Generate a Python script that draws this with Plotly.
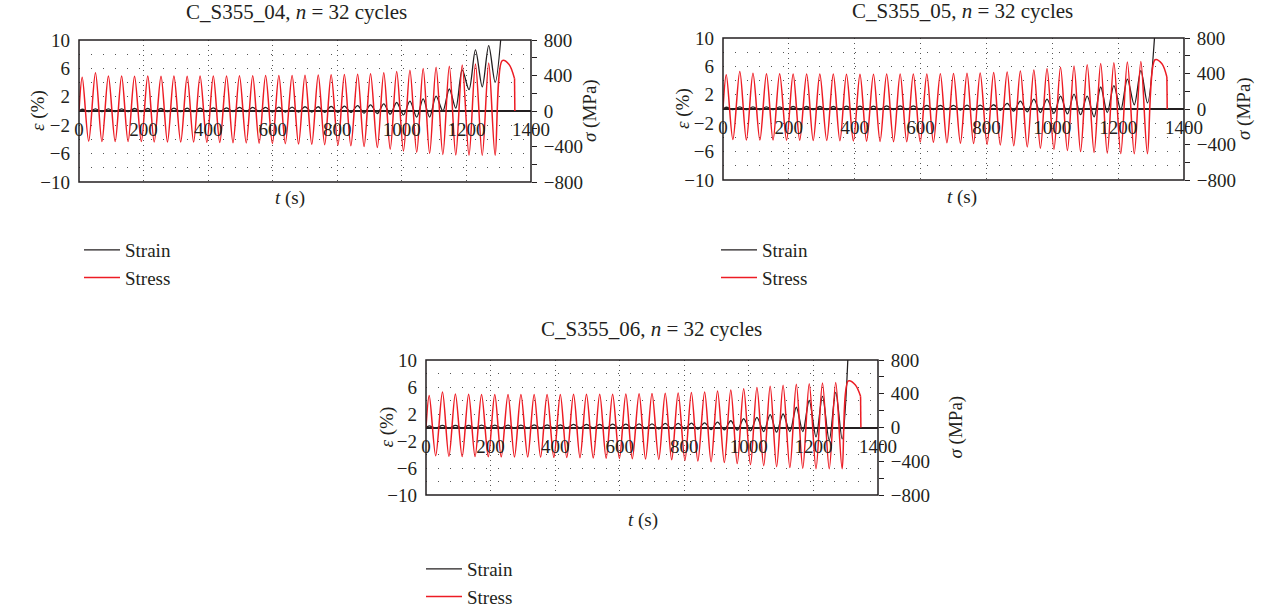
import plotly.graph_objects as go

# ---------------- data ----------------
# times of the stress/strain extrema within each of the 32 cycles (s)
T_PEAK = [10, 51, 91, 132, 172, 213, 254, 294, 335, 375, 416, 457, 497, 538, 578, 619,
          660, 700, 741, 781, 822, 863, 903, 944, 984, 1025, 1066, 1106, 1147, 1187, 1228, 1269]
T_TROUGH = [30, 71, 112, 152, 193, 233, 274, 315, 355, 396, 436, 477, 518, 558, 599, 639,
            680, 721, 761, 802, 842, 883, 924, 964, 1005, 1046, 1086, 1127, 1167, 1208, 1249, 1289]

# ---- C_S355_04 ----
P1_STRESS_PEAK = [380, 430, 395, 395, 392, 395, 392, 395, 392, 395, 395, 395, 398, 398, 400, 400,
                  400, 402, 405, 408, 410, 415, 420, 430, 445, 460, 478, 492, 505, 518, 530, 540]
P1_STRESS_TROUGH = [-340, -345, -345, -345, -345, -348, -348, -350, -350, -352, -355, -358, -360, -362, -365, -368,
                    -372, -376, -380, -386, -392, -400, -412, -430, -450, -465, -478, -490, -496, -498, -500, -498]
P1_STRAIN_PEAK = [0.25, 0.3, 0.3, 0.3, 0.35, 0.35, 0.35, 0.4, 0.4, 0.4, 0.45, 0.45, 0.5, 0.5, 0.5, 0.55,
                  0.55, 0.6, 0.6, 0.65, 0.7, 0.75, 0.85, 1.0, 1.2, 1.4, 1.7, 2.1, 3.1, 5.8, 8.6, 9.2]
P1_STRAIN_TROUGH = [-0.1, -0.1, -0.1, -0.1, -0.1, -0.1, -0.1, -0.1, -0.1, -0.1, -0.1, -0.1, -0.1, -0.1, -0.15, -0.15,
                    -0.15, -0.15, -0.2, -0.2, -0.2, -0.3, -0.35, -0.45, -0.55, -0.85, -0.85, 0.0, 0.4, 3.0, 3.4, 4.05]
P1_STRESS_TAIL_T = [1311, 1332, 1349]
P1_STRESS_TAIL_V = [568, 525, 365]
P1_END_T = 1350
P1_STRAIN_TAIL_T = [1313]
P1_STRAIN_TAIL_V = [14]

# ---- C_S355_05 ----
P2_STRESS_PEAK = [385, 422, 402, 398, 396, 395, 395, 393, 393, 392, 392, 392, 393, 393, 395, 395,
                  397, 400, 402, 406, 410, 418, 428, 440, 455, 470, 485, 500, 512, 522, 530, 535]
P2_STRESS_TROUGH = [-345, -350, -350, -350, -352, -352, -355, -355, -358, -360, -362, -365, -368, -370, -372, -375,
                    -380, -385, -390, -398, -405, -415, -428, -442, -455, -468, -480, -490, -498, -502, -505, -503]
P2_STRAIN_PEAK = [0.25, 0.3, 0.3, 0.3, 0.3, 0.35, 0.35, 0.35, 0.35, 0.4, 0.4, 0.4, 0.45, 0.45, 0.45, 0.5,
                  0.5, 0.5, 0.55, 0.55, 0.6, 0.8, 1.1, 1.4, 1.4, 1.8, 2.1, 1.8, 3.1, 3.3, 4.2, 5.4]
P2_STRAIN_TROUGH = [-0.1, -0.1, -0.1, -0.1, -0.1, -0.1, -0.1, -0.1, -0.1, -0.1, -0.1, -0.1, -0.1, -0.1, -0.1, -0.1,
                    -0.1, -0.15, -0.15, -0.15, -0.2, -0.3, -0.4, -0.5, -0.6, -0.7, -0.8, -1.1, -0.5, -0.1, 0.6, 0.86]
P2_STRESS_TAIL_T = [1312, 1333, 1348]
P2_STRESS_TAIL_V = [555, 510, 360]
P2_END_T = 1349
P2_STRAIN_TAIL_T = [1316]
P2_STRAIN_TAIL_V = [14]

# ---- C_S355_06 ----
P3_STRESS_PEAK = [380, 420, 398, 395, 392, 392, 392, 390, 392, 392, 392, 393, 393, 395, 395, 397,
                  400, 402, 405, 410, 415, 422, 432, 445, 460, 475, 490, 502, 512, 520, 528, 532]
P3_STRESS_TROUGH = [-335, -342, -345, -345, -347, -348, -350, -350, -352, -354, -356, -358, -360, -363, -366, -370,
                    -374, -378, -383, -390, -398, -406, -416, -428, -440, -452, -465, -475, -483, -488, -490, -488]
P3_STRAIN_PEAK = [0.25, 0.3, 0.3, 0.3, 0.35, 0.35, 0.35, 0.35, 0.4, 0.4, 0.4, 0.45, 0.45, 0.45, 0.5, 0.5,
                  0.55, 0.55, 0.6, 0.6, 0.65, 0.7, 0.8, 1.0, 1.3, 1.5, 1.9, 2.0, 3.0, 4.0, 4.6, 5.2]
P3_STRAIN_TROUGH = [-0.1, -0.1, -0.1, -0.1, -0.1, -0.1, -0.1, -0.1, -0.1, -0.1, -0.1, -0.1, -0.1, -0.15, -0.15, -0.15,
                    -0.15, -0.2, -0.2, -0.2, -0.25, -0.3, -0.35, -0.4, -0.5, -0.6, -0.7, -0.6, -0.6, -1.4, -1.9, -1.7]
P3_STRESS_TAIL_T = [1308, 1330, 1346]
P3_STRESS_TAIL_V = [552, 505, 370]
P3_END_T = 1347
P3_STRAIN_TAIL_T = [1310]
P3_STRAIN_TAIL_V = [14]

TITLES = ["C_S355_04, <i>n</i> = 32 cycles", "C_S355_05, <i>n</i> = 32 cycles", "C_S355_06, <i>n</i> = 32 cycles"]
X_TICKS = [0, 200, 400, 600, 800, 1000, 1200, 1400]
EPS_TICKS = [-10, -6, -2, 2, 6, 10]
EPS_GRID = [-8, -4, 4, 8]
SIG_TICKS = [-800, -400, 0, 400, 800]
SIG_MINOR = [-600, -200, 200, 600]

# ---------------- helpers ----------------
def wave(peaks, troughs, tail_t, tail_v):
    t, v = [0], [0]
    for tp, p, tt, q in zip(T_PEAK, peaks, T_TROUGH, troughs):
        t += [tp, tt]
        v += [p, q]
    return t + list(tail_t), v + list(tail_v)

W, H = 1281, 612
def px(x):
    return x / W
def py(y):
    return 1 - y / H

FONT = "Liberation Serif"
INK = "#231f20"
RED = "#ed1c24"
TICK = 19

panels = [
    dict(x0=79, x1=531, y0=40, y1=182, title=TITLES[0], tx=296, ty=12, ax=290, ay=198,
         lx=38, rx=590, leg_x=79, leg_y=231,
         sp=P1_STRESS_PEAK, st=P1_STRESS_TROUGH, ep=P1_STRAIN_PEAK, et=P1_STRAIN_TROUGH,
         stt=P1_STRESS_TAIL_T, stv=P1_STRESS_TAIL_V, end=P1_END_T, ett=P1_STRAIN_TAIL_T, etv=P1_STRAIN_TAIL_V),
    dict(x0=723, x1=1184, y0=38, y1=180, title=TITLES[1], tx=963, ty=11, ax=962, ay=197,
         lx=683, rx=1244, leg_x=716, leg_y=231,
         sp=P2_STRESS_PEAK, st=P2_STRESS_TROUGH, ep=P2_STRAIN_PEAK, et=P2_STRAIN_TROUGH,
         stt=P2_STRESS_TAIL_T, stv=P2_STRESS_TAIL_V, end=P2_END_T, ett=P2_STRAIN_TAIL_T, etv=P2_STRAIN_TAIL_V),
    dict(x0=426, x1=878, y0=360, y1=495, title=TITLES[2], tx=651, ty=329, ax=643, ay=520,
         lx=386, rx=955, leg_x=421, leg_y=550,
         sp=P3_STRESS_PEAK, st=P3_STRESS_TROUGH, ep=P3_STRAIN_PEAK, et=P3_STRAIN_TROUGH,
         stt=P3_STRESS_TAIL_T, stv=P3_STRESS_TAIL_V, end=P3_END_T, ett=P3_STRAIN_TAIL_T, etv=P3_STRAIN_TAIL_V),
]

fig = go.Figure()
annotations = []
shapes = []
layout = {}

for i, p in enumerate(panels):
    xn = "x" if i == 0 else f"x{i+1}"
    yl = f"y{2*i+1}" if i > 0 else "y"
    yr = f"y{2*i+2}"
    xkey = "xaxis" if i == 0 else f"xaxis{i+1}"
    ylkey = "yaxis" if i == 0 else f"yaxis{2*i+1}"
    yrkey = f"yaxis{2*i+2}"
    leg = "legend" if i == 0 else f"legend{i+1}"

    ydom = [py(p["y1"]), py(p["y0"])]
    xdom = [px(p["x0"]), px(p["x1"])]

    et_, ev_ = wave(p["ep"], p["et"], p["ett"], p["etv"])
    st_, sv_ = wave(p["sp"], p["st"], p["stt"], p["stv"])

    fig.add_trace(go.Scatter(x=et_, y=ev_, xaxis=xn, yaxis=yl, mode="lines", name="Strain",
                             line=dict(color=INK, width=1.3, shape="spline", smoothing=0.9),
                             legend=leg, legendgroup=f"strain{i}"))
    fig.add_trace(go.Scatter(x=st_, y=sv_, xaxis=xn, yaxis=yr, mode="lines", name="Stress",
                             line=dict(color=RED, width=1.5, shape="spline", smoothing=0.9),
                             legend=leg, legendgroup=f"stress{i}"))
    fig.add_trace(go.Scatter(x=[p["stt"][-1], p["end"]], y=[p["stv"][-1], 0], xaxis=xn, yaxis=yr,
                             mode="lines", line=dict(color=RED, width=1.5), showlegend=False,
                             legend=leg, legendgroup=f"stress{i}", hoverinfo="skip"))

    layout[xkey] = dict(domain=xdom, range=[0, 1400], anchor="free", position=(ydom[0] + ydom[1]) / 2,
                        tickmode="array", tickvals=X_TICKS, showline=False, ticks="", zeroline=False,
                        showgrid=True, gridcolor="#555555", gridwidth=1, griddash="1px,4px",
                        tickfont=dict(family=FONT, size=TICK, color=INK), ticklabelstandoff=5,
                        automargin=False)
    layout[ylkey] = dict(domain=ydom, range=[-10, 10], anchor=xn, tickmode="array", tickvals=EPS_TICKS,
                         showline=False, ticks="", showgrid=True, gridcolor="#555555", gridwidth=1,
                         griddash="1px,11px", zeroline=True, zerolinecolor=INK, zerolinewidth=1.5,
                         minor=dict(tickmode="array", tickvals=EPS_GRID, showgrid=True, gridcolor="#555555",
                                    gridwidth=1, griddash="1px,11px", ticks=""),
                         tickfont=dict(family=FONT, size=TICK, color=INK), ticklabelstandoff=8,
                         automargin=False)
    layout[yrkey] = dict(range=[-800, 800], anchor=xn, overlaying=yl, side="right", tickmode="array",
                         tickvals=SIG_TICKS, showgrid=False, zeroline=False, showline=False,
                         ticks="outside", ticklen=5, tickcolor=INK, tickwidth=1.3,
                         minor=dict(tickmode="array", tickvals=SIG_MINOR, ticks="outside", ticklen=5,
                                    tickcolor=INK, tickwidth=1.3, showgrid=False),
                         tickfont=dict(family=FONT, size=TICK, color=INK), ticklabelstandoff=3,
                         automargin=False)
    layout[leg] = dict(x=px(p["leg_x"]), y=py(p["leg_y"]), xanchor="left", yanchor="top",
                       bgcolor="rgba(0,0,0,0)", font=dict(family=FONT, size=19, color=INK),
                       traceorder="grouped", tracegroupgap=0, itemwidth=36)

    shapes.append(dict(type="rect", xref=f"{xn} domain", yref=f"{yl} domain", x0=0, x1=1, y0=0, y1=1,
                       line=dict(color=INK, width=1.5), fillcolor="rgba(0,0,0,0)", layer="above"))

    annotations.append(dict(text=p["title"], x=px(p["tx"]), y=py(p["ty"]), xref="paper", yref="paper",
                            xanchor="center", yanchor="middle",
                            showarrow=False, font=dict(family=FONT, size=21, color=INK)))
    annotations.append(dict(text="<i>t</i> (s)", x=px(p["ax"]), y=py(p["ay"]), xref="paper", yref="paper",
                            xanchor="center", yanchor="middle",
                            showarrow=False, font=dict(family=FONT, size=19, color=INK)))
    ymid = py((p["y0"] + p["y1"]) / 2)
    annotations.append(dict(text="<i>ε</i> (%)", x=px(p["lx"]), y=ymid, xref="paper", yref="paper",
                            xanchor="center", yanchor="middle",
                            showarrow=False, textangle=-90, font=dict(family=FONT, size=19, color=INK)))
    annotations.append(dict(text="<i>σ</i> (MPa)", x=px(p["rx"]), y=ymid, xref="paper", yref="paper",
                            xanchor="center", yanchor="middle",
                            showarrow=False, textangle=-90, font=dict(family=FONT, size=19, color=INK)))

fig.update_layout(width=W, height=H, margin=dict(l=0, r=0, t=0, b=0, autoexpand=False),
                  paper_bgcolor="white", plot_bgcolor="white",
                  annotations=annotations, shapes=shapes, **layout)

fig.write_html("out.html", config={"displayModeBar": False},
               post_script="document.body.style.margin='0';document.body.style.overflow='hidden';")
